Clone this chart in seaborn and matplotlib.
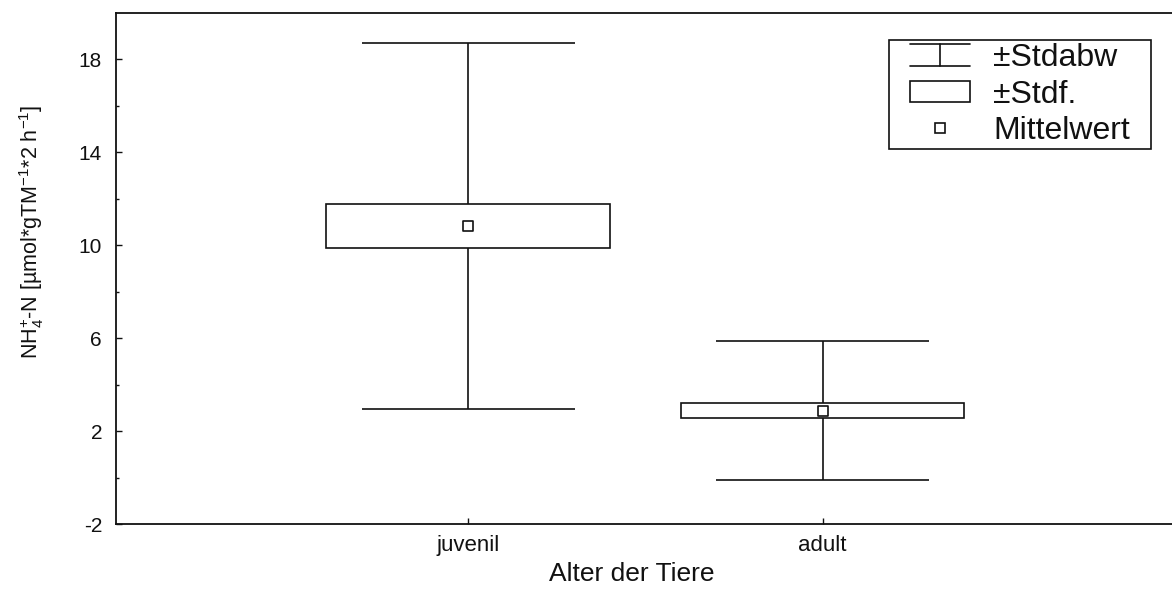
import numpy as np
import pandas as pd
import matplotlib
matplotlib.use("Agg")
import matplotlib.pyplot as plt
import seaborn as sns
from matplotlib.legend_handler import HandlerBase
from matplotlib.lines import Line2D
from matplotlib.patches import Rectangle, Patch

# ---- data ----
categories = ["juvenil", "adult"]
means = [10.82, 2.88]
sds = [7.88, 2.99]
ses = [0.94, 0.32]
y_ticks = [-2, 2, 6, 10, 14, 18]
y_minor = [0, 4, 8, 12, 16]
legend_labels = ["\u00b1Stdabw", "\u00b1Stdf.", "Mittelwert"]

sns.set_theme(style="ticks")
plt.rcParams["font.family"] = ["Liberation Sans", "DejaVu Sans"]
plt.rcParams["mathtext.fontset"] = "custom"
plt.rcParams["mathtext.rm"] = "Liberation Sans"
plt.rcParams["mathtext.it"] = "Liberation Sans"
plt.rcParams["mathtext.default"] = "regular"

df = pd.DataFrame({"cat": categories, "mean": means, "sd": sds, "se": ses})

fig = plt.figure(figsize=(11.72, 5.89), dpi=100)
ax = fig.add_axes([116 / 1172, 1 - 524 / 589, 1 - 116 / 1172, (524 - 13) / 589])

LC = "#111111"
LW = 1.2

# whiskers (mean +- sd)
lo_sd = df["mean"] - df["sd"]
hi_sd = df["mean"] + df["sd"]
ax.vlines(df["cat"], lo_sd, hi_sd, color=LC, lw=LW, zorder=1)
cap_half = 0.3
xpos = np.arange(len(categories))
ax.hlines(hi_sd, xpos - cap_half, xpos + cap_half, color=LC, lw=LW, zorder=1)
ax.hlines(lo_sd, xpos - cap_half, xpos + cap_half, color=LC, lw=LW, zorder=1)

# boxes (mean +- se)
ax.bar(df["cat"], 2 * df["se"], bottom=df["mean"] - df["se"], width=0.8,
       facecolor="white", edgecolor=LC, linewidth=LW, zorder=2)

# mean markers
sns.scatterplot(data=df, x="cat", y="mean", marker="s", s=46,
                facecolor="white", edgecolor=LC, linewidth=LW, zorder=3, ax=ax)

ax.set_xlim(-0.994, 1.986)
ax.set_ylim(-2, 20)
ax.set_yticks(y_ticks)
ax.set_yticks(y_minor, minor=True)
ax.set_yticklabels([str(t) for t in y_ticks])
ax.tick_params(axis="y", which="major", direction="in", length=4, width=1,
               color=LC, labelsize=15, pad=10, labelcolor=LC)
ax.tick_params(axis="y", which="minor", direction="in", length=2.5, width=1,
               color=LC)
ax.tick_params(axis="x", which="major", direction="in", length=4.5, width=1,
               color=LC, labelsize=16, pad=8, labelcolor=LC)
for s in ["left", "bottom", "top"]:
    ax.spines[s].set_color(LC)
    ax.spines[s].set_linewidth(1.3)
ax.spines["right"].set_visible(False)

ax.set_xlabel("Alter der Tiere", fontsize=19, color=LC)
ax.xaxis.set_label_coords(0.488, -0.074)
ax.xaxis.label.set_va("top")
ax.set_ylabel(r"NH$_{4}^{+}$-N [µmol*gTM$^{-1}$*2 h$^{-1}$]", fontsize=15.5,
              color=LC)
ax.yaxis.set_label_coords(-0.066, 0.571)


class GlyphHandler(HandlerBase):
    def __init__(self, kind):
        super().__init__()
        self.kind = kind

    def create_artists(self, legend, orig_handle, xdescent, ydescent, width,
                       height, fontsize, trans):
        inset = 13.0
        x0 = -xdescent + inset
        x1 = -xdescent + width
        yb = -ydescent
        yt = -ydescent + height
        ym = (yb + yt) / 2
        xm = (x0 + x1) / 2
        arts = []
        if self.kind == "err":
            arts.append(Line2D([x0, x1], [yt, yt], color=LC, lw=LW))
            arts.append(Line2D([x0, x1], [yb, yb], color=LC, lw=LW))
            arts.append(Line2D([xm, xm], [yb, yt], color=LC, lw=LW))
        elif self.kind == "box":
            arts.append(Rectangle((x0, yb + 0.5), x1 - x0, height - 1,
                                  facecolor="white", edgecolor=LC, lw=LW))
        else:
            arts.append(Line2D([xm], [ym], marker="s", ms=6.5, mfc="white",
                               mec=LC, mew=LW, ls="none"))
        for a in arts:
            a.set_transform(trans)
        return arts


h1 = Line2D([], [])
h2 = Patch()
h3 = Line2D([], [], marker="s")
fs = 23
leg = ax.legend([h1, h2, h3], legend_labels,
                handler_map={h1: GlyphHandler("err"), h2: GlyphHandler("box"),
                             h3: GlyphHandler("mean")},
                loc="upper left",
                bbox_to_anchor=(889 / 1172, 1 - 149 / 589, 262 / 1172, 109 / 589),
                mode="expand",
                bbox_transform=fig.transFigure, fontsize=fs, frameon=True,
                fancybox=False, edgecolor=LC, framealpha=1,
                handlelength=56.2 / fs, handleheight=15.8 / fs,
                handletextpad=16.6 / fs,
                labelspacing=0.2, borderpad=0.1, borderaxespad=0)
leg.get_frame().set_linewidth(1.2)
for t in leg.get_texts():
    t.set_color(LC)

fig.savefig("out.png", dpi=100)
